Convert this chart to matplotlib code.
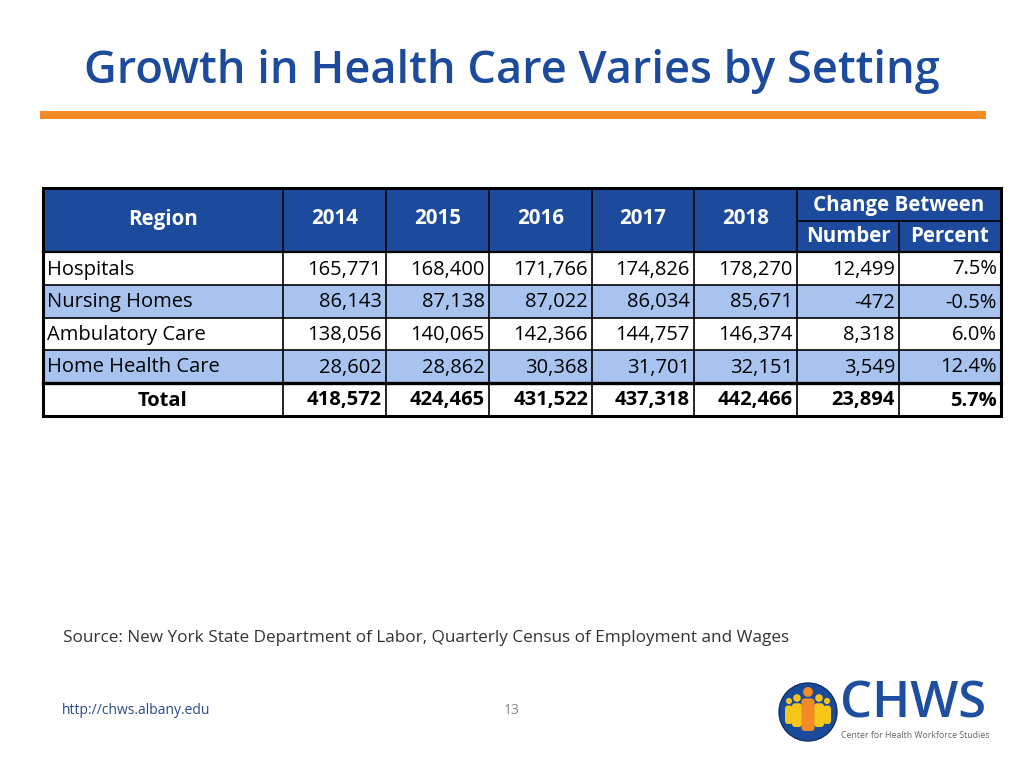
import matplotlib.pyplot as plt
from matplotlib.patches import Rectangle, Circle, FancyBboxPatch

# data
regions = ["Hospitals", "Nursing Homes", "Ambulatory Care", "Home Health Care"]
years = ["2014", "2015", "2016", "2017", "2018"]
values = [
    [165771, 168400, 171766, 174826, 178270],
    [86143, 87138, 87022, 86034, 85671],
    [138056, 140065, 142366, 144757, 146374],
    [28602, 28862, 30368, 31701, 32151],
]
change_num = [12499, -472, 8318, 3549]
change_pct = [7.5, -0.5, 6.0, 12.4]
total_vals = [418572, 424465, 431522, 437318, 442466]
total_change = 23894
total_pct = 5.7

BLUE = "#1c4a9c"
LIGHT = "#a8c3ef"
ORANGE = "#f28a26"
FONT = "Open Sans"

fig = plt.figure(figsize=(10.24, 7.68), dpi=100)
ax = fig.add_axes([0, 0, 1, 1])
ax.set_xlim(0, 1024)
ax.set_ylim(768, 0)
ax.axis("off")

# title + rule
ax.text(512, 72, "Growth in Health Care Varies by Setting", ha="center", va="center",
        fontsize=32.5, color=BLUE, family=FONT, weight="semibold")
ax.add_patch(Rectangle((40, 111), 946, 8, color=ORANGE, lw=0))

# table geometry
cols = [43, 283, 386, 489, 592, 694, 797, 899, 1001]
head_top, head_mid, head_bot = 188, 221, 252
rows = [252, 285, 318, 350, 383, 416]

# fills
ax.add_patch(Rectangle((cols[0], head_top), cols[-1] - cols[0], head_bot - head_top, color=BLUE, lw=0))
for i in range(4):
    fc = LIGHT if i % 2 == 1 else "white"
    ax.add_patch(Rectangle((cols[0], rows[i]), cols[-1] - cols[0], rows[i + 1] - rows[i], color=fc, lw=0))

# header text
hkw = dict(ha="center", va="center", color="white", family=FONT, weight="bold", fontsize=14.8)
ax.text((cols[0] + cols[1]) / 2, 219, "Region", **hkw)
for j, y in enumerate(years):
    ax.text((cols[j + 1] + cols[j + 2]) / 2, 219, y, **hkw)
ax.text((cols[6] + cols[8]) / 2, 205, "Change Between", **hkw)
ax.text((cols[6] + cols[7]) / 2, 237, "Number", **hkw)
ax.text((cols[7] + cols[8]) / 2, 237, "Percent", **hkw)

# body text
bkw = dict(va="center", color="black", family=FONT, fontsize=14.5)
for i, name in enumerate(regions):
    yc = (rows[i] + rows[i + 1]) / 2 + 1
    ax.text(cols[0] + 4, yc, name, ha="left", **bkw)
    for j, v in enumerate(values[i]):
        ax.text(cols[j + 2] - 4, yc, f"{v:,}", ha="right", **bkw)
    ax.text(cols[7] - 4, yc, f"{change_num[i]:,}", ha="right", **bkw)
    ax.text(cols[8] - 4, yc, f"{change_pct[i]:.1f}%", ha="right", **bkw)

yc = (rows[4] + rows[5]) / 2 + 1
ax.text((cols[0] + cols[1]) / 2, yc, "Total", ha="center", weight="bold", **bkw)
for j, v in enumerate(total_vals):
    ax.text(cols[j + 2] - 4, yc, f"{v:,}", ha="right", weight="bold", **bkw)
ax.text(cols[7] - 4, yc, f"{total_change:,}", ha="right", weight="bold", **bkw)
ax.text(cols[8] - 4, yc, f"{total_pct:.1f}%", ha="right", weight="bold", **bkw)

# grid lines
for x in cols[1:-1]:
    top = head_mid if x == cols[7] else head_top
    ax.plot([x, x], [top, rows[-1]], color="black", lw=1.2)
ax.plot([cols[6], cols[8]], [head_mid, head_mid], color="black", lw=1.2)
for y in rows[1:4]:
    ax.plot([cols[0], cols[-1]], [y, y], color="black", lw=1.2)
ax.plot([cols[0], cols[-1]], [head_bot, head_bot], color="black", lw=1.6)
ax.plot([cols[0], cols[-1]], [rows[4], rows[4]], color="black", lw=2.4)
ax.add_patch(Rectangle((cols[0], head_top), cols[-1] - cols[0], rows[-1] - head_top,
                       fill=False, ec="black", lw=2.2))

# footer
ax.text(63, 638, "Source: New York State Department of Labor, Quarterly Census of Employment and Wages",
        ha="left", va="center", fontsize=12.3, color="#333333", family=FONT)
ax.text(62, 711, "http://chws.albany.edu", ha="left", va="center", fontsize=10,
        color="#2a4a8a", family=FONT)
ax.text(512, 711, "13", ha="center", va="center", fontsize=10, color="#888888", family=FONT)

# logo
ax.add_patch(Circle((808, 712), 29, fc="#1a4a9a", ec="#10306a", lw=1))
people = [(-19, 701, 8, 23, "#f5c518"), (19, 701, 8, 23, "#f5c518"),
          (-11, 698, 10, 29, "#f5c518"), (11, 698, 10, 29, "#f5c518"),
          (0, 692, 13, 39, "#f28a26")]
for dx, hy, w, h, c in people:
    r = w * 0.38
    ax.add_patch(Circle((808 + dx, hy), r, color=c, lw=0))
    ax.add_patch(FancyBboxPatch((808 + dx - w / 2, hy + r + 1.5), w, h - r - 1.5,
                                boxstyle="round,pad=0,rounding_size=3", color=c, lw=0))
ax.text(840, 704, "CHWS", ha="left", va="center", fontsize=36.5, color="#1f4ea0",
        family=FONT, weight="semibold")
ax.text(841, 735, "Center for Health Workforce Studies", ha="left", va="center",
        fontsize=6.3, color="#666666", family=FONT)

fig.savefig("out.png", dpi=100)
